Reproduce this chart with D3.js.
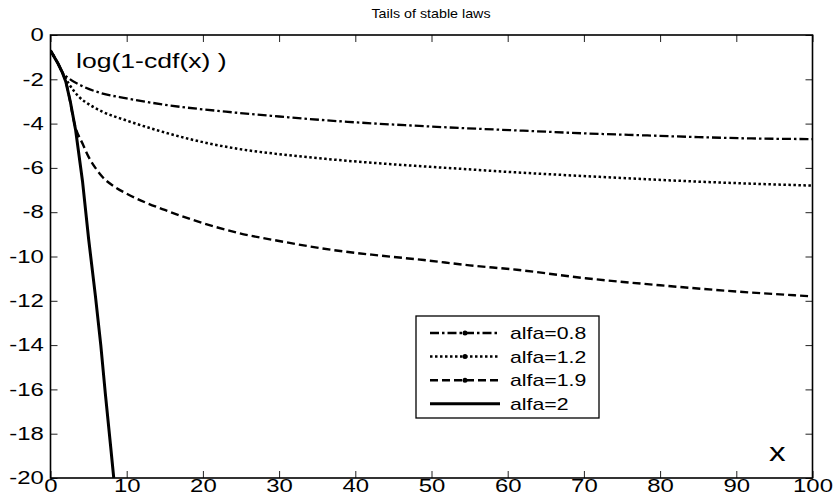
<!DOCTYPE html>
<html>
<head>
<meta charset="utf-8">
<script src="https://cdn.jsdelivr.net/npm/d3@7"></script>
<style>
body { margin: 0; background: white; }
text { font-family: "Liberation Sans", Arial, sans-serif; fill: #000; }
</style>
</head>
<body>
<script>

// values, [x, log(1-cdf(x))]
const alfa08 = [[0,-0.7],[1,-1.3],[1.5,-1.65],[2.5,-1.98],[4,-2.28],[6.6,-2.62],[10,-2.86],[15,-3.15],[23,-3.46],[30,-3.68],[39,-3.92],[47,-4.08],[54.5,-4.21],[62,-4.32],[70,-4.44],[77,-4.52],[85,-4.61],[92,-4.67],[100,-4.7]]
const alfa12 = [[0,-0.7],[1,-1.3],[1.5,-1.65],[2.5,-2.25],[3.7,-2.78],[5,-3.12],[6.8,-3.46],[9.8,-3.84],[14,-4.3],[18.4,-4.71],[24.8,-5.15],[30,-5.38],[37,-5.62],[45,-5.84],[52,-6.0],[60,-6.18],[73,-6.42],[85,-6.62],[100,-6.8]]
const alfa19 = [[0,-0.7],[1,-1.3],[1.5,-1.65],[2,-2.1],[3.3,-4.2],[4.2,-4.9],[5,-5.5],[6,-6.05],[6.8,-6.4],[8.4,-6.85],[10.2,-7.2],[12.6,-7.58],[15,-7.9],[18.7,-8.35],[24.8,-8.95],[30,-9.3],[36.9,-9.7],[43,-9.95],[49,-10.16],[55,-10.4],[61.2,-10.6],[70.2,-10.98],[80,-11.3],[90,-11.58],[100,-11.8]]
const alfa2 = [[0,-0.7],[1,-1.3],[1.5,-1.65],[2,-2.1],[2.6,-3],[3.3,-4.3],[4.2,-6.6],[5,-9.2],[5.9,-11.8],[6.6,-14],[7.2,-16.2],[7.9,-18.6],[8.3,-20]]

const legendLabels = ["alfa=0.8", "alfa=1.2", "alfa=1.9", "alfa=2"]
const xTicks = [0, 10, 20, 30, 40, 50, 60, 70, 80, 90, 100]
const yTicks = [0, -2, -4, -6, -8, -10, -12, -14, -16, -18, -20]

class TailsChart{

    constructor(){
        this.width = 834
        this.height = 500
        this.left = 50.5
        this.right = 812.5
        this.top = 35
        this.bottom = 478
        this.tick_len = 7
        this.stretch = 1.33 // text in the picture is wider than it is tall
    }

    render(){
        var that = this
        const svg = d3.select("body").append("svg")
            .attr("width", this.width)
            .attr("height", this.height)

        const x = d3.scaleLinear().domain([0, 100]).range([this.left, this.right])
        const y = d3.scaleLinear().domain([-20, 0]).range([this.bottom, this.top])

        svg.append("clipPath").attr("id", "plot-clip")
            .append("rect")
            .attr("x", this.left).attr("y", this.top)
            .attr("width", this.right - this.left)
            .attr("height", this.bottom - this.top)

        // plain hyphen for negatives, like the picture
        const fmt = d => String(d)

        // axes, ticks pointing inward on all four sides
        svg.append("g")
            .attr("transform", "translate(0," + this.bottom + ")")
            .call(d3.axisBottom(x).tickValues(xTicks).tickFormat(fmt).tickSize(-this.tick_len).tickSizeOuter(0).tickPadding(1))
        svg.append("g")
            .attr("transform", "translate(" + this.left + ",0)")
            .call(d3.axisLeft(y).tickValues(yTicks).tickFormat(fmt).tickSize(-this.tick_len).tickSizeOuter(0).tickPadding(5))
        svg.append("g")
            .attr("transform", "translate(0," + this.top + ")")
            .call(d3.axisTop(x).tickValues(xTicks).tickSize(-this.tick_len).tickSizeOuter(0).tickFormat(""))
        svg.append("g")
            .attr("transform", "translate(" + this.right + ",0)")
            .call(d3.axisRight(y).tickValues(yTicks).tickSize(-this.tick_len).tickSizeOuter(0).tickFormat(""))

        svg.selectAll(".domain").remove()
        svg.selectAll(".tick line").attr("stroke", "#222").attr("stroke-width", 1)
        svg.selectAll(".tick text")
            .attr("font-size", 18)
            .attr("font-family", "Liberation Sans, Arial, sans-serif")
            .attr("fill", "#000")
            .attr("transform", "scale(" + this.stretch + ",1)")

        svg.append("rect")
            .attr("x", this.left).attr("y", this.top)
            .attr("width", this.right - this.left)
            .attr("height", this.bottom - this.top)
            .attr("fill", "none")
            .attr("stroke", "#000")
            .attr("stroke-width", 1.6)

        const smooth = d3.line()
            .x(d => x(d[0]))
            .y(d => y(d[1]))
            .curve(d3.curveMonotoneX)
        const straight = d3.line()
            .x(d => x(d[0]))
            .y(d => y(d[1]))

        const series = [
            {data: alfa08, dash: "9,3,2.5,3", w: 2.3, line: smooth},
            {data: alfa12, dash: "2.5,2.5", w: 2.5, line: smooth},
            {data: alfa19, dash: "8,4", w: 2.4, line: smooth},
            {data: alfa2, dash: null, w: 3, line: straight},
        ]

        const plot = svg.append("g").attr("clip-path", "url(#plot-clip)")
        plot.selectAll("path")
            .data(series)
            .join("path")
            .attr("d", d => d.line(d.data))
            .attr("fill", "none")
            .attr("stroke", "#000")
            .attr("stroke-width", d => d.w)
            .attr("stroke-dasharray", d => d.dash)

        // texts
        this.addText(svg, "Tails of stable laws", 431, 18, 13, "middle", 1.1)
        this.addText(svg, "log(1-cdf(x) )", 76, 68, 20, "start")
        this.addText(svg, "x", 769, 461, 25, "start")

        // legend
        const lg = svg.append("g")
        lg.append("rect")
            .attr("x", 416).attr("y", 316)
            .attr("width", 183).attr("height", 102)
            .attr("fill", "white")
            .attr("stroke", "#000")
            .attr("stroke-width", 1.3)

        series.forEach(function(s, i){
            var ly = 333 + i*23.6
            lg.append("line")
                .attr("x1", 430).attr("x2", 500)
                .attr("y1", ly).attr("y2", ly)
                .attr("stroke", "#000")
                .attr("stroke-width", s.w)
                .attr("stroke-dasharray", s.dash)
            if (i < 3){
                lg.append("circle").attr("cx", 465).attr("cy", ly).attr("r", 2.5).attr("fill", "#000")
            }
            that.addText(lg, legendLabels[i], 510, ly + 6, 16, "start")
        })
    }

    addText(sel, str, px, py, size, anchor, sx){
        sx = sx || this.stretch
        return sel.append("text")
            .text(str)
            .attr("transform", "translate(" + px + "," + py + ") scale(" + sx + ",1)")
            .attr("font-size", size)
            .attr("text-anchor", anchor)
    }
}

new TailsChart().render()
</script>
</body>
</html>
